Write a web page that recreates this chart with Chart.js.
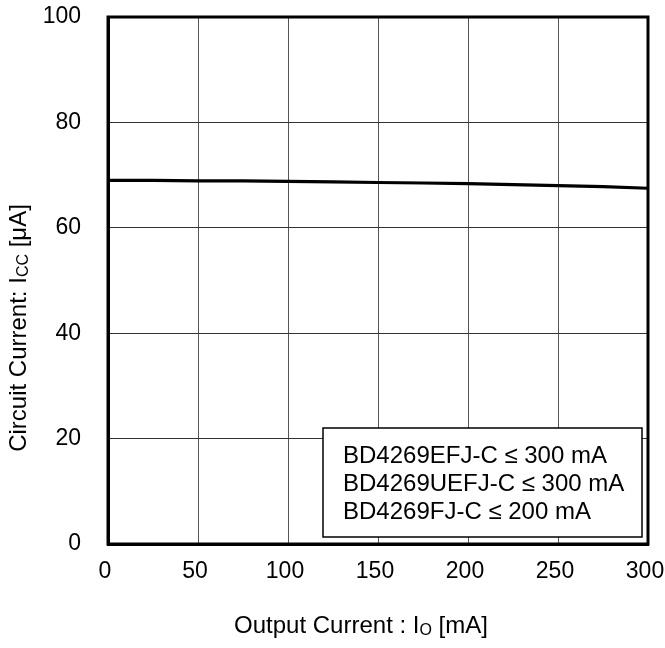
<!DOCTYPE html>
<html>
<head>
<meta charset="utf-8">
<script src="https://cdn.jsdelivr.net/npm/chart.js@4.4.0/dist/chart.umd.min.js"></script>
<style>
  body { margin: 0; background: #fff; }
  #wrap { width: 665px; height: 648px; }
</style>
</head>
<body>
<div id="wrap"><canvas id="chart" width="665" height="648"></canvas></div>
<script>
// valores
const outputCurrent = [0, 25, 50, 75, 100, 125, 150, 175, 200, 225, 250, 275, 300];
const circuitCurrent = [69.0, 69.0, 68.9, 68.9, 68.8, 68.7, 68.6, 68.5, 68.4, 68.2, 68.0, 67.8, 67.5];
const notes = [
    'BD4269EFJ-C \u2264 300 mA',
    'BD4269UEFJ-C \u2264 300 mA',
    'BD4269FJ-C \u2264 200 mA'
];

const fam = '"Liberation Sans", Arial, sans-serif';

// desenha texto com subscrito
function drawParts(ctx, parts, cx, cy) {
    let total = 0;
    parts.forEach(p => {
        ctx.font = p.size + 'px ' + fam;
        p.w = ctx.measureText(p.t).width;
        total += p.w;
    });
    let x = cx - total / 2;
    ctx.textAlign = 'left';
    ctx.textBaseline = 'middle';
    parts.forEach(p => {
        ctx.font = p.size + 'px ' + fam;
        ctx.fillText(p.t, x, cy + (p.dy || 0));
        x += p.w;
    });
}

const extras = {
    id: 'extras',
    afterDraw(chart) {
        const ctx = chart.ctx;
        const a = chart.chartArea;
        ctx.save();
        ctx.strokeStyle = '#000';
        ctx.lineWidth = 3;
        ctx.strokeRect(a.left, a.top, a.right - a.left, a.bottom - a.top);

        // caixa de texto
        const bx = a.left + 215, by = a.top + 411, bw = 319, bh = 109;
        ctx.fillStyle = '#fff';
        ctx.fillRect(bx, by, bw, bh);
        ctx.lineWidth = 1.5;
        ctx.strokeRect(bx, by, bw, bh);
        ctx.fillStyle = '#000';
        ctx.font = '24px ' + fam;
        ctx.textAlign = 'left';
        ctx.textBaseline = 'middle';
        notes.forEach((n, i) => ctx.fillText(n, bx + 20, by + 28 + i * 28));

        // títulos dos eixos
        drawParts(ctx, [
            { t: 'Output Current : I', size: 24 },
            { t: 'O', size: 16, dy: 5 },
            { t: ' [mA]', size: 24 }
        ], 361, 626);

        ctx.translate(19, 328);
        ctx.rotate(-Math.PI / 2);
        drawParts(ctx, [
            { t: 'Circuit Current: I', size: 24 },
            { t: 'CC', size: 16, dy: 5 },
            { t: ' [\u03bcA]', size: 24 }
        ], 0, 0);
        ctx.restore();
    }
};

function noPad(s) {
    s.paddingTop = 0;
    s.paddingBottom = 0;
    s.paddingLeft = 0;
    s.paddingRight = 0;
}

const ctx1 = document.getElementById('chart');
const chart1 = new Chart(ctx1, {
    type: 'line',
    data: {
        datasets: [{
            data: outputCurrent.map((x, i) => ({ x: x, y: circuitCurrent[i] })),
            borderColor: '#000',
            borderWidth: 3.2,
            pointRadius: 0,
            tension: 0
        }]
    },
    options: {
        responsive: false,
        animation: false,
        devicePixelRatio: 1,
        layout: { padding: { top: 17, right: 17, left: 0, bottom: 0 } },
        plugins: {
            legend: { display: false },
            tooltip: { enabled: false }
        },
        scales: {
            x: {
                type: 'linear',
                min: 0,
                max: 300,
                ticks: { stepSize: 50, color: '#000', font: { family: fam, size: 23 }, padding: 14, maxRotation: 0, labelOffset: -3 },
                grid: { color: '#555', lineWidth: 1, drawTicks: false },
                border: { color: '#000', width: 3 },
                afterFit: s => { s.height = 104; noPad(s); }
            },
            y: {
                min: 0,
                max: 100,
                ticks: { stepSize: 20, color: '#000', font: { family: fam, size: 23 }, padding: 27 },
                grid: { color: '#333', lineWidth: 1, drawTicks: false },
                border: { color: '#000', width: 3 },
                afterFit: s => { s.width = 108; noPad(s); }
            }
        }
    },
    plugins: [extras]
});
</script>
</body>
</html>
